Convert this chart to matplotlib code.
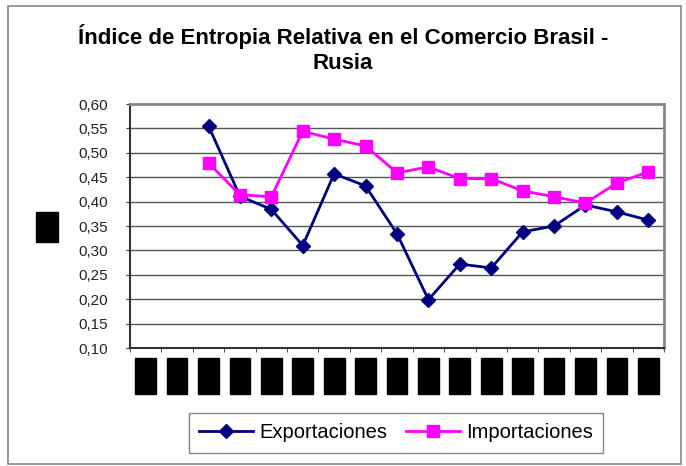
import numpy as np
import matplotlib.pyplot as plt
from matplotlib.patches import Rectangle

plt.rcParams['font.family'] = ['Liberation Sans', 'DejaVu Sans']

# datos
years = [str(y) for y in range(1990, 2007)]
exportaciones = [np.nan, np.nan, 0.555, 0.411, 0.384, 0.310, 0.457, 0.432, 0.334, 0.199,
                 0.272, 0.264, 0.338, 0.350, 0.393, 0.379, 0.362]
importaciones = [np.nan, np.nan, 0.479, 0.414, 0.410, 0.544, 0.528, 0.514, 0.459, 0.471,
                 0.447, 0.447, 0.422, 0.410, 0.397, 0.438, 0.461]
yticks = [0.10, 0.15, 0.20, 0.25, 0.30, 0.35, 0.40, 0.45, 0.50, 0.55, 0.60]

fig = plt.figure(figsize=(6.86, 4.66), dpi=100)
ax = fig.add_axes([130 / 686, 1 - 348 / 466, 534 / 686, 244 / 466])

# marco exterior
fig.patches.append(Rectangle((8 / 686, 2 / 466), 673 / 686, 458 / 466, transform=fig.transFigure,
                             fill=False, edgecolor='#888888', linewidth=1.2))

x = np.arange(len(years))
ax.plot(x, exportaciones, color='#000080', marker='D', markersize=7.5, linewidth=2,
        label='Exportaciones')
ax.plot(x, importaciones, color='#ff00ff', marker='s', markersize=8.5, linewidth=2,
        label='Importaciones')

ax.set_xlim(-0.5, len(years) - 0.5)
ax.set_ylim(0.10, 0.60)
ax.set_yticks(yticks)
ax.set_yticklabels([f'{v:.2f}'.replace('.', ',') for v in yticks], fontsize=11, color='#222222')
for v in yticks[1:-1]:
    ax.axhline(v, color='#555555', linewidth=1, zorder=0)

ax.set_xticks(np.arange(-0.5, len(years)), minor=True)
ax.set_xticks(x)
ax.set_xticklabels(years, rotation=90, fontsize=9, color='black', va='top',
                   bbox=dict(facecolor='black', edgecolor='black', boxstyle='square,pad=0.35'))
ax.tick_params(axis='x', which='major', length=0, pad=10)
ax.tick_params(axis='x', which='minor', length=3, direction='out', color='#333333')
ax.tick_params(axis='y', length=3, direction='out', color='#333333', pad=13)

for s in ['top', 'right']:
    ax.spines[s].set_color('#888888')
    ax.spines[s].set_linewidth(2)
for s in ['left', 'bottom']:
    ax.spines[s].set_color('#333333')
    ax.spines[s].set_linewidth(1.5)

fig.text(47 / 686, 1 - 227 / 466, 'IER', rotation=90, ha='center', va='center', fontsize=9,
         color='black', bbox=dict(facecolor='black', edgecolor='black', boxstyle='square,pad=0.4'))

fig.text(0.5, 1 - 49 / 466, 'Índice de Entropia Relativa en el Comercio Brasil -\nRusia',
         ha='center', va='center', fontsize=16, fontweight='bold', linespacing=1.25)

leg = fig.legend(loc='center', bbox_to_anchor=(396 / 686, 1 - 433 / 466), ncol=2, fontsize=14.5,
                 frameon=True, fancybox=False, edgecolor='#666666', handlelength=2.7,
                 columnspacing=0.9, handletextpad=0.3, borderpad=0.5)
leg.get_frame().set_linewidth(1)

fig.savefig('out.png', dpi=100)
